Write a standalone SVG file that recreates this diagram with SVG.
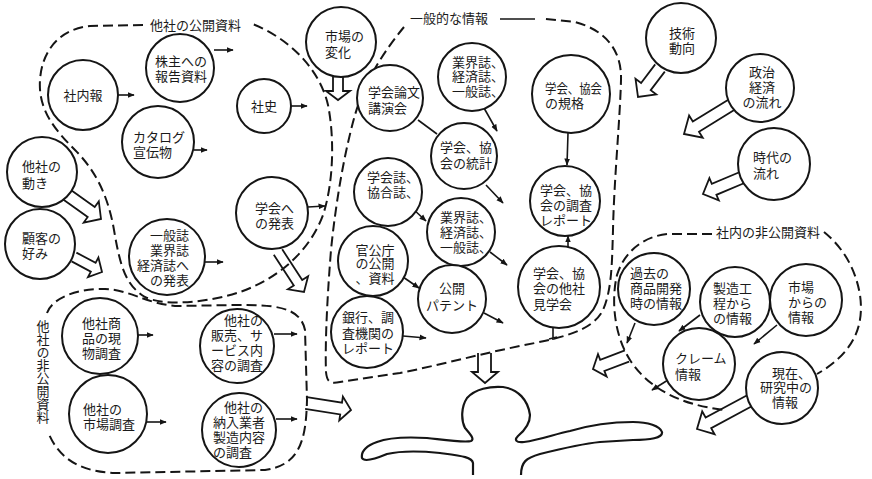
<svg xmlns="http://www.w3.org/2000/svg" width="872" height="479" viewBox="0 0 872 479">
  <style>
    .c { fill: #fff; stroke: #151515; stroke-width: 2; }
    .d { fill: none; stroke: #151515; stroke-width: 2; stroke-dasharray: 10 5; }
    .k { fill: none; stroke: #151515; stroke-width: 1.6; }
    .b { fill: none; stroke: #151515; stroke-width: 1.8; stroke-linejoin: miter; }
    .p { fill: none; stroke: #151515; stroke-width: 2.2; stroke-linejoin: round; }
    text { font-family: "Noto Sans CJK JP", "Noto Sans CJK SC", sans-serif; font-size: 13px; fill: #1a1a1a; }
    .m { text-anchor: middle; }
    .e { text-anchor: end; }
    .v { writing-mode: vertical-rl; }
  </style>
  <defs>
    <marker id="ah" viewBox="0 0 10 10" refX="9" refY="5" markerWidth="4.5" markerHeight="4.5" orient="auto">
      <path d="M0,1 L10,5 L0,9 z" fill="#151515"/>
    </marker>
  </defs>
  <rect width="872" height="479" fill="#fff"/>

  <!-- grouping boundaries -->
  <g id="regions">
    <path class="d" d="M143,25 L90,26 C60,29 42,50 40,80 C38,110 55,130 75,150 C95,170 108,195 114,230 C120,265 125,285 145,297 C165,307 210,302 240,292 C280,278 310,250 323,215 C333,185 335,140 328,105 C320,70 290,38 250,23"/>
    <text x="150" y="30">他社の公開資料</text>

    <path class="d" d="M404,27 C385,50 365,80 355,115 C345,150 336,200 331,250 C327,300 325,345 326,372 C327,382 330,384 340,382 L400,373 C440,365 480,354 520,346 C560,338 590,332 602,312 C612,292 612,262 613,230 C614,180 620,120 621,80 C622,50 605,30 575,22 L545,19"/>
    <path class="k" d="M500,19 L535,19"/>
    <text x="410" y="23">一般的な情報</text>

    <path class="d" d="M712,234 L668,234 C645,236 625,250 617,275 C611,300 614,335 630,360 C648,388 680,405 725,410"/>
    <path class="d" d="M824,232 C840,245 855,265 860,295 C865,330 850,355 817,374"/>
    <text x="716" y="237">社内の非公開資料</text>

    <path class="d" d="M47,313 C52,298 78,288 105,289 C130,290 145,303 175,306 L235,305 C270,305 300,305 305,330 L307,400 C306,440 300,465 265,470 L115,473 C85,472 60,462 48,432"/>
    <text class="v" x="43" y="320">他社の非公開資料</text>
  </g>

  <!-- person receiving the information -->
  <g id="person">
    <path class="p" d="M473,475 L473,463 C472,457 462,456 440,453 C420,451 400,451 387,454 C375,459 364,462 362,458 C361,452 366,446 377,442 C390,437 410,437 427,438 C445,440 465,443 471,441 C475,439 470,434 465,428 C461,420 461,407 467,398 C475,389 490,386 503,387 C518,389 528,400 530,415 C530,424 524,431 518,436 C514,440 516,443 524,442 C540,440 555,434 570,431 C590,425 612,422 633,422 C648,422 660,426 662,432 C663,438 650,440 633,440 L600,442 C580,444 560,449 540,454 C526,458 521,462 521,475"/>
  </g>

  <!-- connectors -->
  <g id="connectors">
    <path class="k" marker-end="url(#ah)" d="M118,95 L134,95"/>
    <path class="k" marker-end="url(#ah)" d="M214,50 L233,50"/>
    <path class="k" marker-end="url(#ah)" d="M194,150 L207,150"/>
    <path class="k" marker-end="url(#ah)" d="M291,106 L307,106"/>
    <path class="k" marker-end="url(#ah)" d="M205,262 L223,262"/>
    <path class="k" marker-end="url(#ah)" d="M308,207 L325,206"/>
    <path class="k" marker-end="url(#ah)" d="M138,335 L153,335"/>
    <path class="k" marker-end="url(#ah)" d="M147,422 L166,422"/>
    <path class="k" marker-end="url(#ah)" d="M274,334 L297,334"/>
    <path class="k" marker-end="url(#ah)" d="M276,419 L297,419"/>

    <path class="k" d="M418,120 L437,134"/>
    <path class="k" marker-end="url(#ah)" d="M484,108 L497,131"/>
    <path class="k" marker-end="url(#ah)" d="M486,185 L503,203"/>
    <path class="k" marker-end="url(#ah)" d="M412,208 L426,221"/>
    <path class="k" marker-end="url(#ah)" d="M490,252 L507,265"/>
    <path class="k" marker-end="url(#ah)" d="M403,277 L419,288"/>
    <path class="k" marker-end="url(#ah)" d="M484,313 L503,323"/>
    <path class="k" marker-end="url(#ah)" d="M403,336 L426,338"/>
    <path class="k" marker-end="url(#ah)" d="M568,133 L567,165"/>
    <path class="k" marker-end="url(#ah)" d="M568,247 L568,236"/>
    <path class="k" d="M553,328 L553,340 M549,339 L557,337"/>

    <path class="k" marker-end="url(#ah)" d="M635,323 L627,343"/>
    <path class="k" marker-end="url(#ah)" d="M700,315 L679,331"/>
    <path class="k" marker-end="url(#ah)" d="M777,325 L754,344"/>
    <path class="k" marker-end="url(#ah)" d="M668,380 L652,390"/>

    <!-- hollow block arrows -->
    <path class="b" d="M333,77 L333,91 L326,91 L338,100 L350,91 L343,91 L343,77"/>
    <path class="b" d="M62.5,198.9 L87.7,216.9 L83.7,222.6 L101,219 L98.8,201.4 L94.7,207.1 L69.5,189.1"/>
    <path class="b" d="M71.6,261.4 L90.8,271.7 L88,277 L102,272 L98.4,257.6 L95.6,262.9 L76.4,252.6"/>
    <path class="b" d="M273.8,254.7 L293.8,285.5 L287.9,289.3 L304,292 L308.1,276.3 L302.2,280.1 L282.2,249.3"/>
    <path class="b" d="M655.2,64.4 L641.1,83 L635.5,78.7 L638,97 L656.3,94.5 L650.7,90.2 L664.8,71.6"/>
    <path class="b" d="M727.9,99.9 L692.8,121.5 L689.1,115.5 L684,134 L702.7,137.7 L699,131.7 L734.2,110.1"/>
    <path class="b" d="M738.7,172.5 L711.8,183.8 L709.4,178.2 L703,194 L718.8,200.4 L716.4,194.8 L743.3,183.5"/>
    <path class="b" d="M305.1,408.9 L340.2,414.4 L339.3,420.4 L351,410 L342.9,396.6 L342,402.6 L306.9,397.1"/>
    <path class="b" d="M478,353 L478,372 L472,372 L485,383 L498,372 L491,372 L491,353"/>
    <path class="b" d="M624.9,350.4 L600.2,359.8 L598,354.2 L593,369 L606.6,376.6 L604.4,371 L629.1,361.6"/>
    <path class="b" d="M746.2,395.7 L705.6,417.5 L702.2,411.4 L697,429 L714.6,434.2 L711.2,428.1 L751.8,406.3"/>
  </g>

  <!-- other companies: public material -->
  <g id="n-shanaiho"><circle class="c" cx="83" cy="95" r="35"/><text class="m" x="83" y="100">社内報</text></g>
  <g id="n-kabunushi"><circle class="c" cx="180" cy="68" r="34"/><text class="m"><tspan x="181" y="66">株主への</tspan><tspan x="181" y="81">報告資料</tspan></text></g>
  <g id="n-catalog"><circle class="c" cx="158" cy="142" r="36"/><text><tspan x="133" y="142">カタログ</tspan><tspan x="133" y="157">宣伝物</tspan></text></g>
  <g id="n-shashi"><circle class="c" cx="264" cy="106" r="27"/><text class="m" x="264" y="111">社史</text></g>
  <g id="n-ippanshi"><circle class="c" cx="167" cy="257" r="38"/><text class="e"><tspan x="189" y="240">一般誌</tspan><tspan x="189" y="255">業界誌</tspan><tspan x="189" y="270">経済誌へ</tspan><tspan x="189" y="285">の発表</tspan></text></g>
  <g id="n-gakkai-happyo"><circle class="c" cx="272" cy="213" r="36"/><text><tspan x="255" y="213">学会へ</tspan><tspan x="255" y="228">の発表</tspan></text></g>

  <!-- outside influences -->
  <g id="n-tasha-ugoki"><circle class="c" cx="42" cy="172" r="35"/><text><tspan x="22" y="171">他社の</tspan><tspan x="22" y="188">動き</tspan></text></g>
  <g id="n-kokyaku"><circle class="c" cx="40" cy="244" r="35"/><text><tspan x="22" y="243">顧客の</tspan><tspan x="22" y="258">好み</tspan></text></g>
  <g id="n-shijo-henka"><circle class="c" cx="341" cy="42" r="35"/><text><tspan x="325" y="41">市場の</tspan><tspan x="325" y="57">変化</tspan></text></g>
  <g id="n-gijutsu"><circle class="c" cx="681" cy="38" r="35"/><text class="m"><tspan x="682" y="38">技術</tspan><tspan x="682" y="53">動向</tspan></text></g>
  <g id="n-seiji"><circle class="c" cx="760" cy="88" r="34"/><text class="m"><tspan x="762" y="77">政治</tspan><tspan x="762" y="92">経済</tspan><tspan x="762" y="107">の流れ</tspan></text></g>
  <g id="n-jidai"><circle class="c" cx="774" cy="164" r="36"/><text><tspan x="753" y="162">時代の</tspan><tspan x="753" y="178">流れ</tspan></text></g>

  <!-- general information -->
  <g id="n-ronbun"><circle class="c" cx="390" cy="98" r="33"/><text><tspan x="368" y="97">学会論文</tspan><tspan x="368" y="113">講演会</tspan></text></g>
  <g id="n-gyokaishi-1"><circle class="c" cx="472" cy="77" r="34"/><text><tspan x="452" y="67">業界誌、</tspan><tspan x="452" y="81">経済誌、</tspan><tspan x="452" y="96">一般誌、</tspan></text></g>
  <g id="n-tokei"><circle class="c" cx="464" cy="156" r="33"/><text><tspan x="440" y="152">学会、協</tspan><tspan x="440" y="168">会の統計</tspan></text></g>
  <g id="n-gakkaishi"><circle class="c" cx="388" cy="192" r="34"/><text><tspan x="367" y="182">学会誌、</tspan><tspan x="367" y="197">協合誌、</tspan></text></g>
  <g id="n-gyokaishi-2"><circle class="c" cx="461" cy="232" r="34"/><text><tspan x="440" y="222">業界誌、</tspan><tspan x="440" y="237">経済誌、</tspan><tspan x="440" y="252">一般誌、</tspan></text></g>
  <g id="n-kankocho"><circle class="c" cx="373" cy="261" r="35"/><text class="m"><tspan x="375" y="255">官公庁</tspan><tspan x="375" y="268">の公開</tspan><tspan x="375" y="283">、資料</tspan></text></g>
  <g id="n-patent"><circle class="c" cx="452" cy="299" r="34"/><text class="m"><tspan x="452" y="293">公開</tspan><tspan x="452" y="310">パテント</tspan></text></g>
  <g id="n-ginko"><circle class="c" cx="367" cy="332" r="36"/><text><tspan x="342" y="322">銀行、調</tspan><tspan x="342" y="338">査機関の</tspan><tspan x="342" y="353">レポート</tspan></text></g>
  <g id="n-kikaku"><circle class="c" cx="571" cy="94" r="39"/><text><tspan x="545" y="93" textLength="57" lengthAdjust="spacingAndGlyphs">学会、協会</tspan><tspan x="545" y="108">の規格</tspan></text></g>
  <g id="n-chosa-report"><circle class="c" cx="565" cy="201" r="35"/><text><tspan x="540" y="195">学会、協</tspan><tspan x="540" y="210">会の調査</tspan><tspan x="540" y="225">レポート</tspan></text></g>
  <g id="n-kengakukai"><circle class="c" cx="559" cy="287" r="41"/><text><tspan x="533" y="278">学会、協</tspan><tspan x="533" y="293">会の他社</tspan><tspan x="533" y="309">見学会</tspan></text></g>

  <!-- other companies: non-public material -->
  <g id="n-genbutsu"><circle class="c" cx="100" cy="336" r="38"/><text><tspan x="82" y="328">他社商</tspan><tspan x="82" y="343">品の現</tspan><tspan x="82" y="358">物調査</tspan></text></g>
  <g id="n-shijo-chosa"><circle class="c" cx="108" cy="414" r="39"/><text><tspan x="83" y="414">他社の</tspan><tspan x="83" y="429">市場調査</tspan></text></g>
  <g id="n-hanbai"><circle class="c" cx="237" cy="346" r="37"/><text class="e"><tspan x="263" y="325">他社の</tspan><tspan x="263" y="340">販売、サ</tspan><tspan x="263" y="355">ービス内</tspan><tspan x="263" y="370">容の調査</tspan></text></g>
  <g id="n-nonyu"><circle class="c" cx="239" cy="430" r="37"/><text><tspan class="e" x="263" y="412">他社の</tspan><tspan x="213" y="427">納入業者</tspan><tspan x="213" y="442">製造内容</tspan><tspan x="213" y="457">の調査</tspan></text></g>

  <!-- in-house non-public material -->
  <g id="n-kako"><circle class="c" cx="654" cy="289" r="36"/><text><tspan x="630" y="278">過去の</tspan><tspan x="630" y="293">商品開発</tspan><tspan x="630" y="308">時の情報</tspan></text></g>
  <g id="n-seizo"><circle class="c" cx="735" cy="302" r="35"/><text><tspan x="713" y="293">製造工</tspan><tspan x="713" y="308">程から</tspan><tspan x="713" y="323">の情報</tspan></text></g>
  <g id="n-shijo-joho"><circle class="c" cx="806" cy="300" r="36"/><text><tspan x="788" y="292">市場</tspan><tspan x="788" y="307">からの</tspan><tspan x="788" y="322">情報</tspan></text></g>
  <g id="n-claim"><circle class="c" cx="699" cy="364" r="36"/><text><tspan x="675" y="363">クレーム</tspan><tspan x="675" y="379">情報</tspan></text></g>
  <g id="n-kenkyu"><circle class="c" cx="782" cy="388" r="36"/><text><tspan x="772" y="378">現在、</tspan><tspan x="760" y="392">研究中の</tspan><tspan x="772" y="407">情報</tspan></text></g>
</svg>
